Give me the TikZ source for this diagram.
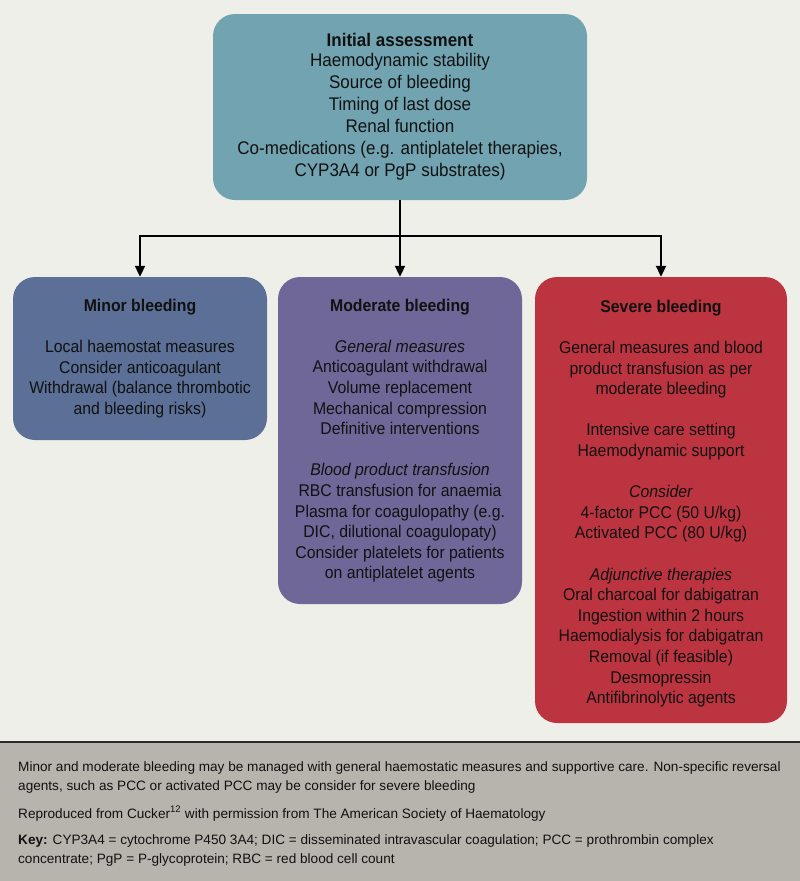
\documentclass[tikz,border=0pt]{standalone}
\usepackage{fontspec}
\setmainfont[FakeStretch=0.93]{Liberation Sans}
\newfontfamily\footfont{Liberation Sans}
\usetikzlibrary{arrows.meta}
\definecolor{bgc}{HTML}{EFEFEA}
\definecolor{footc}{HTML}{B7B4AE}
\definecolor{footline}{HTML}{2A2A2A}
\definecolor{tealc}{HTML}{71A3B1}
\definecolor{minorc}{HTML}{5B6F97}
\definecolor{modc}{HTML}{6F6797}
\definecolor{sevc}{HTML}{BC3440}
\definecolor{txt}{HTML}{111111}
\tikzset{
  box/.style={rounded corners=22pt, inner sep=0pt, align=center, text=txt,
    font=\fontsize{17}{20.6}\selectfont},
  conn/.style={line width=2pt, draw=black},
  arr/.style={conn, -{Triangle[length=11pt,width=10pt]}},
  foottext/.style={anchor=base west, inner sep=0pt, align=left, text=txt,
    font=\footfont\fontsize{13.6}{18.5}\selectfont}
}
\begin{document}
\begin{tikzpicture}[x=1pt,y=-1pt]
\useasboundingbox (0,0) rectangle (800,881);
\fill[bgc] (0,0) rectangle (800,742);
\fill[footc] (0,742) rectangle (800,881);
\draw[line width=2pt, footline] (0,742) -- (800,742);

\node[box, fill=tealc, minimum width=374pt, minimum height=186pt,
  font=\fontsize{18.3}{22}\selectfont] (init) at (400,107)
  {\textbf{Initial assessment}\\[-2pt]
   Haemodynamic stability\\
   Source of bleeding\\
   Timing of last dose\\
   Renal function\\
   Co-medications (e.g. antiplatelet therapies,\\
   CYP3A4 or PgP substrates)};

\node[box, fill=minorc, minimum width=254pt, minimum height=163pt] (minor) at (140,358.5)
  {\textbf{Minor bleeding}\\[20.6pt]
   Local haemostat measures\\
   Consider anticoagulant\\
   Withdrawal (balance thrombotic\\
   and bleeding risks)};

\node[box, fill=modc, minimum width=244pt, minimum height=327pt] (moderate) at (400,440.5)
  {\textbf{Moderate bleeding}\\[20.6pt]
   \textit{General measures}\\
   Anticoagulant withdrawal\\
   Volume replacement\\
   Mechanical compression\\
   Definitive interventions\\[20.6pt]
   \textit{Blood product transfusion}\\
   RBC transfusion for anaemia\\
   Plasma for coagulopathy (e.g.\\
   DIC, dilutional coagulopaty)\\
   Consider platelets for patients\\
   on antiplatelet agents};

\node[box, fill=sevc, minimum width=252pt, minimum height=446pt] (severe) at (661,500)
  {\rule{0pt}{19.5pt}\textbf{Severe bleeding}\\[20.6pt]
   General measures and blood\\
   product transfusion as per\\
   moderate bleeding\\[20.6pt]
   Intensive care setting\\
   Haemodynamic support\\[20.6pt]
   \textit{Consider}\\
   4-factor PCC (50 U/kg)\\
   Activated PCC (80 U/kg)\\[20.6pt]
   \textit{Adjunctive therapies}\\
   Oral charcoal for dabigatran\\
   Ingestion within 2 hours\\
   Haemodialysis for dabigatran\\
   Removal (if feasible)\\
   Desmopressin\\
   Antifibrinolytic agents};

\coordinate (jc) at (400,236);
\coordinate (jl) at (140,236);
\coordinate (jr) at (661,236);
\draw[conn] (init.south) -- (jc);
\draw[conn, line cap=rect] (jl) -- (jr);
\draw[arr] (jl) -- (minor.north);
\draw[arr] (jc) -- (moderate.north);
\draw[arr] (jr) -- (severe.north);

\node[foottext] (note) at (18,790)
  {Minor and moderate bleeding may be managed with general haemostatic measures and supportive care. Non-specific reversal\\
   agents, such as PCC or activated PCC may be consider for severe bleeding};
\node[foottext] (repro) at (18,818)
  {Reproduced from Cucker\textsuperscript{12} with permission from The American Society of Haematology};
\node[foottext] (key) at (18,863)
  {\textbf{Key:} CYP3A4 = cytochrome P450 3A4; DIC = disseminated intravascular coagulation; PCC = prothrombin complex\\
   concentrate; PgP = P-glycoprotein; RBC = red blood cell count};
\end{tikzpicture}
\end{document}
